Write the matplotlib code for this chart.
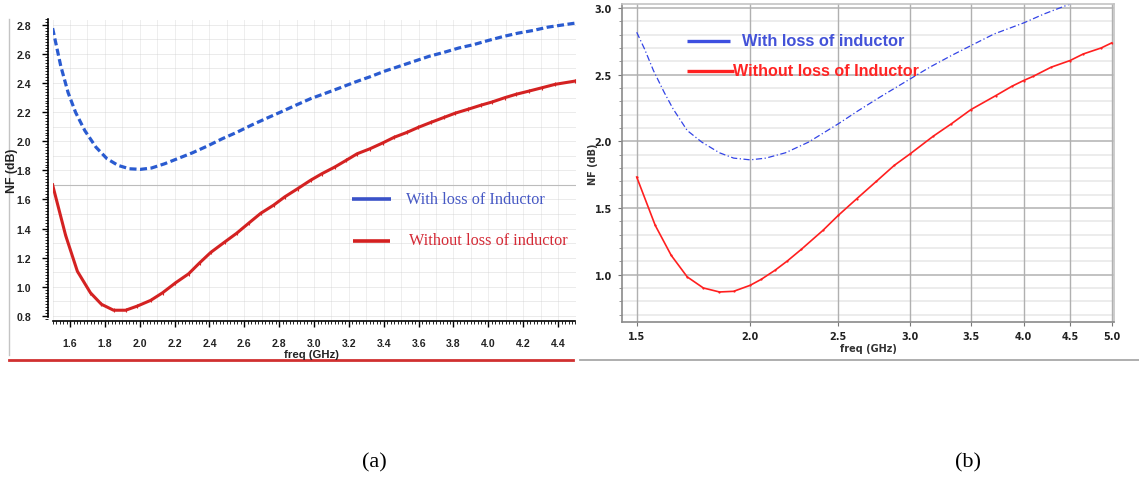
import numpy as np
import matplotlib
matplotlib.use("Agg")
import matplotlib.pyplot as plt
from matplotlib.lines import Line2D
from matplotlib.ticker import MultipleLocator, FixedLocator, NullLocator, FormatStrFormatter

# ---- (a) noise figure vs frequency, linear axis ----
freq_a_loss = [1.50, 1.547, 1.589, 1.632, 1.685, 1.749, 1.812, 1.876, 1.94, 2.004, 2.067,
               2.142, 2.216, 2.301, 2.386, 2.471, 2.556, 2.641, 2.726, 2.811, 2.896, 2.981,
               3.066, 3.151, 3.236, 3.321, 3.406, 3.491, 3.576, 3.661, 3.746, 3.831, 3.916,
               4.001, 4.086, 4.171, 4.256, 4.341, 4.50]
nf_a_loss = [2.777, 2.516, 2.334, 2.198, 2.073, 1.959, 1.88, 1.834, 1.811, 1.807, 1.816,
             1.845, 1.88, 1.92, 1.966, 2.016, 2.061, 2.111, 2.157, 2.202, 2.248, 2.293,
             2.33, 2.368, 2.407, 2.443, 2.482, 2.516, 2.55, 2.584, 2.611, 2.641, 2.664,
             2.693, 2.72, 2.743, 2.761, 2.784, 2.812]

freq_a_noloss = [1.50, 1.575, 1.642, 1.717, 1.78, 1.85, 1.919, 1.987, 2.063, 2.131, 2.205,
                 2.28, 2.343, 2.407, 2.49, 2.556, 2.624, 2.694, 2.768, 2.832, 2.907, 2.98,
                 3.045, 3.119, 3.183, 3.247, 3.32, 3.395, 3.459, 3.533, 3.597, 3.671, 3.746,
                 3.81, 3.884, 3.958, 4.022, 4.096, 4.16, 4.234, 4.309, 4.383, 4.50]
nf_a_noloss = [1.70, 1.352, 1.107, 0.959, 0.88, 0.839, 0.839, 0.868, 0.907, 0.959, 1.027,
               1.089, 1.164, 1.236, 1.31, 1.368, 1.436, 1.505, 1.561, 1.618, 1.675, 1.732,
               1.777, 1.823, 1.868, 1.914, 1.948, 1.989, 2.027, 2.061, 2.095, 2.13, 2.164,
               2.193, 2.22, 2.248, 2.27, 2.3, 2.323, 2.345, 2.368, 2.391, 2.414]

xticks_a = [1.6, 1.8, 2.0, 2.2, 2.4, 2.6, 2.8, 3.0, 3.2, 3.4, 3.6, 3.8, 4.0, 4.2, 4.4]
yticks_a = [0.8, 1.0, 1.2, 1.4, 1.6, 1.8, 2.0, 2.2, 2.4, 2.6, 2.8]
legend_a = ["With loss of Inductor", "Without loss of inductor"]

# ---- (b) noise figure vs frequency, log frequency axis ----
freq_b_loss = [1.5, 1.53, 1.565, 1.608, 1.645, 1.705, 1.769, 1.85, 1.918, 2.0, 2.081,
               2.187, 2.319, 2.5, 2.632, 2.778, 3.0, 3.153, 3.33, 3.5, 3.711, 4.0, 4.212,
               4.5, 4.65]
nf_b_loss = [2.818, 2.693, 2.531, 2.368, 2.243, 2.081, 1.994, 1.914, 1.874, 1.861, 1.874,
             1.914, 1.994, 2.131, 2.231, 2.331, 2.468, 2.556, 2.643, 2.718, 2.805, 2.888,
             2.955, 3.03, 3.07]

freq_b_noloss = [1.5, 1.572, 1.637, 1.705, 1.776, 1.85, 1.918, 2.0, 2.057, 2.129, 2.197,
                 2.277, 2.405, 2.5, 2.62, 2.753, 2.881, 3.0, 3.182, 3.33, 3.5, 3.728, 3.883,
                 4.0, 4.1, 4.289, 4.5, 4.652, 4.868, 5.0]
nf_b_noloss = [1.732, 1.37, 1.145, 0.983, 0.90, 0.870, 0.875, 0.92, 0.965, 1.032, 1.102,
               1.19, 1.332, 1.444, 1.569, 1.699, 1.819, 1.906, 2.039, 2.131, 2.238, 2.343,
               2.413, 2.456, 2.488, 2.556, 2.606, 2.655, 2.70, 2.738]

xticks_b = [1.5, 2.0, 2.5, 3.0, 3.5, 4.0, 4.5, 5.0]
yticks_b = [1.0, 1.5, 2.0, 2.5, 3.0]
legend_b = ["With loss of inductor", "Without loss of Inductor"]

captions = ["(a)", "(b)"]

W, H = 1139, 481
fig = plt.figure(figsize=(W / 100, H / 100), dpi=100)
fig.patch.set_facecolor("white")


def fx(x):
    return x / W


def fy(y):
    return 1 - y / H


def hline(x0, x1, y, **kw):
    fig.add_artist(Line2D([fx(x0), fx(x1)], [fy(y), fy(y)], transform=fig.transFigure, **kw))


def vline(x, y0, y1, **kw):
    fig.add_artist(Line2D([fx(x), fx(x)], [fy(y0), fy(y1)], transform=fig.transFigure, **kw))


narrow = ["Liberation Sans Narrow", "Liberation Sans", "DejaVu Sans"]
serif = ["Liberation Serif", "DejaVu Serif"]
sans = ["Liberation Sans", "DejaVu Sans"]

# ======================= panel (a) =======================
ax1 = fig.add_axes([fx(52.6), fy(322), fx(575.5 - 52.6), (322 - 20) / H])
ax1.set_xlim(1.5, 4.5)
ax1.set_ylim(0.765, 2.84)
ax1.set_facecolor("white")

for v in np.arange(1.5, 4.51, 0.1):
    ax1.axvline(v, color="#d8d8d8", lw=0.6, ls=(0, (1.2, 1.2)), zorder=0)
for v in np.arange(0.8, 2.85, 0.1):
    ax1.axhline(v, color="#d0d0d0", lw=0.6, ls=(0, (1.2, 1.2)), zorder=0)
ax1.axhline(1.7, color="#bcbcbc", lw=0.8, zorder=0)

blue_a = "#2a5bd0"
red_a = "#d42222"
ax1.plot(freq_a_loss, nf_a_loss, color=blue_a, lw=2.3, dashes=(2.2, 1.1), solid_capstyle="butt")
ax1.plot(freq_a_noloss, nf_a_noloss, color=red_a, lw=2.2, marker="|", markersize=3,
         markeredgewidth=0.8, markevery=1)

for s in ["top", "right"]:
    ax1.spines[s].set_visible(False)
ax1.spines["left"].set_position(("outward", 3.3))
ax1.spines["left"].set_bounds(0.79, 2.84)
ax1.spines["left"].set_linewidth(1.2)
ax1.spines["bottom"].set_linewidth(1.2)

ax1.xaxis.set_major_locator(FixedLocator(xticks_a))
ax1.xaxis.set_minor_locator(MultipleLocator(0.02))
ax1.yaxis.set_major_locator(FixedLocator(yticks_a))
ax1.yaxis.set_minor_locator(MultipleLocator(0.02))
ax1.xaxis.set_major_formatter(FormatStrFormatter("%.1f"))
ax1.yaxis.set_major_formatter(FormatStrFormatter("%.1f"))
ax1.tick_params(axis="both", which="major", length=4, width=1.0, direction="out")
ax1.tick_params(axis="both", which="minor", length=2, width=0.6, direction="out")
ax1.tick_params(axis="x", which="major", pad=8)
ax1.tick_params(axis="y", which="major", pad=8)
for lab in ax1.get_xticklabels() + ax1.get_yticklabels():
    lab.set_fontfamily(narrow)
    lab.set_fontweight("bold")
    lab.set_fontsize(7.6)
    lab.set_color("#222222")

fig.text(fx(312), fy(355), "freq (GHz)", ha="center", va="center", family=narrow,
         weight="bold", fontsize=8.2, color="#222222")
fig.text(fx(12), fy(171), "NF (dB)", ha="center", va="center", rotation=90, family=narrow,
         weight="bold", fontsize=8.8, color="#222222")

# legend of (a)
hline(352, 391, 200, color="#3a52c8", lw=2.6, solid_capstyle="butt")
hline(353, 390, 241.5, color="#d42020", lw=2.6, solid_capstyle="butt")
fig.text(fx(406.5), fy(200), legend_a[0], ha="left", va="center", family=serif,
         fontsize=11.7, color="#4658c4")
fig.text(fx(409), fy(241.5), legend_a[1], ha="left", va="center", family=serif,
         fontsize=11.7, color="#d42a36")

# frame pieces around (a)
vline(9, 20, 356, color="#c4c4c4", lw=1.0)
hline(9, 573, 360.5, color="#d03030", lw=2.0)

# ======================= panel (b) =======================
ax2 = fig.add_axes([fx(621.7), fy(322.7), fx(1114 - 621.7), (322.7 - 5) / H])
ax2.set_xscale("log")
ax2.set_xlim(1.444, 5.03)
ax2.set_ylim(0.647, 3.03)
ax2.set_facecolor("white")

for v in np.arange(0.7, 3.01, 0.1):
    if abs(v * 2 - round(v * 2)) > 1e-6:
        ax2.axhline(v, color="#ececec", lw=1.4, zorder=0)
for v in yticks_b:
    ax2.axhline(v, color="#bdbdbd", lw=1.3, zorder=0.5)
for v in xticks_b:
    ax2.axvline(v, color="#b0b0b0", lw=1.0, zorder=0.5)

ax2.plot(freq_b_loss, nf_b_loss, color="#3344e6", lw=0.9, dashes=(5, 2, 1, 2))
ax2.plot(freq_b_noloss, nf_b_noloss, color="#ff1f1f", lw=1.2, marker="o", markersize=1.6,
         markeredgewidth=0)

ax2.xaxis.set_major_locator(FixedLocator(xticks_b))
ax2.xaxis.set_minor_locator(NullLocator())
ax2.xaxis.set_major_formatter(FormatStrFormatter("%.1f"))
ax2.yaxis.set_major_locator(FixedLocator(yticks_b))
ax2.yaxis.set_minor_locator(MultipleLocator(0.1))
ax2.yaxis.set_major_formatter(FormatStrFormatter("%.1f"))
ax2.tick_params(axis="both", which="major", length=3, width=0.8, color="#777777",
                labelsize=7, labelcolor="#222222", pad=4)
ax2.tick_params(axis="y", which="minor", length=2, width=0.6, color="#888888")
for lab in ax2.get_xticklabels() + ax2.get_yticklabels():
    lab.set_fontfamily(["DejaVu Sans"])
    lab.set_fontweight("bold")

for s in ["left", "bottom"]:
    ax2.spines[s].set_color("#8a8a8a")
    ax2.spines[s].set_linewidth(1.2)
for s in ["top", "right"]:
    ax2.spines[s].set_color("#c4c4c4")
    ax2.spines[s].set_linewidth(1.2)

fig.text(fx(868), fy(348.5), "freq (GHz)", ha="center", va="center", family=["DejaVu Sans"],
         weight="bold", fontsize=7, color="#333333")
fig.text(fx(593), fy(164), "NF (dB)", ha="center", va="center", rotation=90,
         family=["DejaVu Sans"], weight="bold", fontsize=7, color="#333333")

# legend of (b)
hline(687, 730, 42, color="#3d4fe0", lw=2.4, solid_capstyle="butt")
hline(687, 734, 71.7, color="#ff2020", lw=2.4, solid_capstyle="butt")
fig.text(fx(741.5), fy(42), legend_b[0], ha="left", va="center", family=sans,
         weight="bold", fontsize=11.8, color="#4352d8")
fig.text(fx(733), fy(71.7), legend_b[1], ha="left", va="center", family=sans,
         weight="bold", fontsize=11.6, color="#ff2424")

hline(580, 1139, 361, color="#a8a8a8", lw=1.3)

# captions
fig.text(fx(374), fy(463), captions[0], ha="center", va="center", family=serif, fontsize=16)
fig.text(fx(968), fy(463), captions[1], ha="center", va="center", family=serif, fontsize=16)

fig.savefig("out.png", dpi=100, facecolor="white")
